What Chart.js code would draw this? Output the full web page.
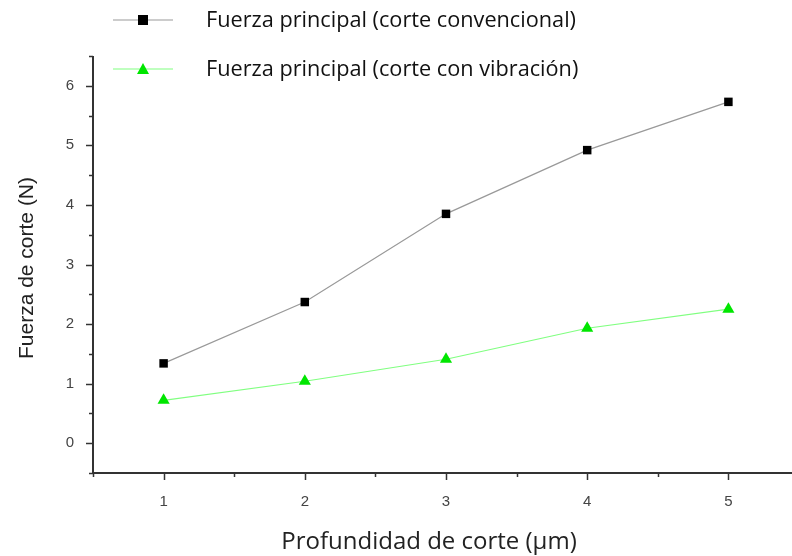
<!DOCTYPE html>
<html>
<head>
<meta charset="utf-8">
<script src="https://cdn.jsdelivr.net/npm/chart.js@4"></script>
<style>
  html, body { margin: 0; padding: 0; background: #fff; overflow: hidden; }
  #wrap { width: 806px; height: 556px; }
</style>
</head>
<body>
<div id="wrap"><canvas id="chart" width="806" height="556"></canvas></div>
<script>
// depth of cut (um)
const depths = [1, 2, 3, 4, 5];
// main force (N)
const conventional = [1.34, 2.37, 3.85, 4.92, 5.73];
const vibration = [0.72, 1.04, 1.41, 1.93, 2.25];

const seriesNames = ['Fuerza principal (corte convencional)', 'Fuerza principal (corte con vibración)'];
const xTitle = 'Profundidad de corte (µm)';
const yTitle = 'Fuerza de corte (N)';

const xTicks = [0.5, 1, 1.5, 2, 2.5, 3, 3.5, 4, 4.5, 5, 5.5];
const yTicks = [-0.5, 0, 0.5, 1, 1.5, 2, 2.5, 3, 3.5, 4, 4.5, 5, 5.5, 6, 6.5];

function toPoints(values) {
    return depths.map((d, i) => ({ x: d, y: values[i] }));
}

// axis ticks (long on integers, short on halves), titles and legend
const decorations = {
    id: 'decorations',
    afterDraw(chart) {
        const ctx = chart.ctx;
        const xs = chart.scales.x;
        const ys = chart.scales.y;
        const area = chart.chartArea;

        ctx.save();
        ctx.strokeStyle = '#333';
        ctx.lineWidth = 2;
        ctx.beginPath();
        ctx.moveTo(area.left, area.top);
        ctx.lineTo(area.left, area.bottom);
        ctx.lineTo(area.right, area.bottom);
        ctx.stroke();

        ctx.lineWidth = 1.5;
        xTicks.forEach(v => {
            const px = Math.round(xs.getPixelForValue(v)) + 0.5;
            const len = Number.isInteger(v) ? 7 : 4;
            ctx.beginPath();
            ctx.moveTo(px, area.bottom);
            ctx.lineTo(px, area.bottom + len);
            ctx.stroke();
        });
        yTicks.forEach(v => {
            const py = Math.round(ys.getPixelForValue(v)) + 0.5;
            const len = Number.isInteger(v) ? 7 : 4;
            ctx.beginPath();
            ctx.moveTo(area.left, py);
            ctx.lineTo(area.left - len, py);
            ctx.stroke();
        });

        ctx.fillStyle = '#222';
        ctx.textAlign = 'center';
        ctx.textBaseline = 'middle';
        ctx.font = '24px "Open Sans"';
        ctx.fillText(xTitle, 429, 542);
        ctx.translate(27, 268);
        ctx.rotate(-Math.PI / 2);
        ctx.font = '21px "Liberation Sans"';
        ctx.fillText(yTitle, 0, 0);
        ctx.restore();

        // legend
        ctx.save();
        const rows = [20, 69];
        chart.data.datasets.forEach((ds, i) => {
            const y = rows[i];
            ctx.strokeStyle = ds.borderColor;
            ctx.lineWidth = 1.2;
            ctx.beginPath();
            ctx.moveTo(113, y);
            ctx.lineTo(173, y);
            ctx.stroke();
            ctx.fillStyle = ds.pointBackgroundColor;
            if (ds.pointStyle === 'rect') {
                ctx.fillRect(138, y - 5, 10, 10);
            } else {
                ctx.beginPath();
                ctx.moveTo(143, y - 6);
                ctx.lineTo(149, y + 5);
                ctx.lineTo(137, y + 5);
                ctx.closePath();
                ctx.fill();
            }
            ctx.fillStyle = '#111';
            ctx.font = '21.7px "Open Sans"';
            ctx.textAlign = 'left';
            ctx.textBaseline = 'middle';
            ctx.fillText(ds.label, 206, y + 1);
        });
        ctx.restore();
    }
};

new Chart(document.getElementById('chart'), {
    type: 'line',
    data: {
        datasets: [{
            label: seriesNames[0],
            data: toPoints(conventional),
            borderColor: '#999999',
            borderWidth: 1.2,
            pointStyle: 'rect',
            pointRadius: 6,
            pointBackgroundColor: '#000000',
            pointBorderColor: '#000000',
            pointBorderWidth: 0
        }, {
            label: seriesNames[1],
            data: toPoints(vibration),
            borderColor: '#80ff80',
            borderWidth: 1.2,
            pointStyle: 'triangle',
            pointRadius: 7,
            pointBackgroundColor: '#00e600',
            pointBorderColor: '#00e600',
            pointBorderWidth: 0
        }]
    },
    options: {
        responsive: false,
        animation: false,
        layout: { padding: { top: 56, right: 2, left: 0, bottom: 0 } },
        plugins: {
            legend: { display: false },
            tooltip: { enabled: false }
        },
        scales: {
            x: {
                type: 'linear',
                min: 0.5,
                max: 5.5,
                grid: { display: false },
                border: { display: false },
                afterFit: scale => {
                    scale.height = 83;
                    scale.paddingLeft = 0;
                    scale.paddingRight = 0;
                },
                ticks: {
                    stepSize: 0.5,
                    padding: 12,
                    color: '#444',
                    font: { family: 'Liberation Sans', size: 15 },
                    maxRotation: 0,
                    callback: v => Number.isInteger(v) ? String(v) : ''
                }
            },
            y: {
                min: -0.5,
                max: 6.5,
                grid: { display: false },
                border: { display: false },
                afterFit: scale => {
                    scale.width = 93;
                    scale.paddingTop = 0;
                    scale.paddingBottom = 0;
                },
                ticks: {
                    stepSize: 0.5,
                    padding: 11,
                    color: '#444',
                    font: { family: 'Liberation Sans', size: 15 },
                    callback: v => Number.isInteger(v) ? String(v) : ''
                }
            }
        }
    },
    plugins: [decorations]
});
</script>
</body>
</html>
